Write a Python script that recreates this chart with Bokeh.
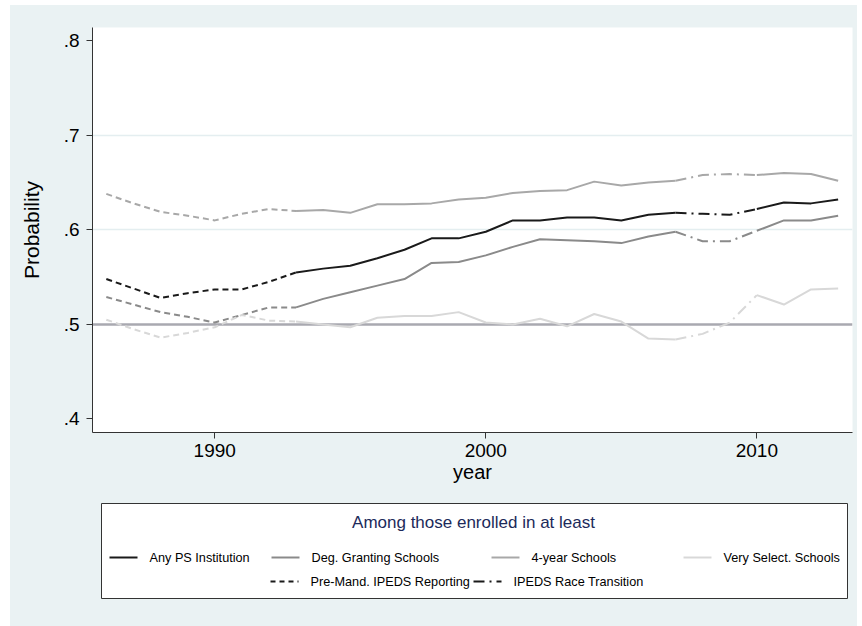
from bokeh.plotting import figure
from bokeh.layouts import column
from bokeh.models import Range1d, FixedTicker, CustomJSTickFormatter, Span
from bokeh.core.properties import value
from bokeh.embed import file_html
from bokeh.resources import INLINE

# data
years = list(range(1986, 2014))
any_ps = [0.548, 0.538, 0.528, 0.533, 0.537, 0.537, 0.545, 0.555, 0.559, 0.562,
          0.570, 0.579, 0.591, 0.591, 0.598, 0.610, 0.610, 0.613, 0.613, 0.610,
          0.616, 0.618, 0.617, 0.616, 0.622, 0.629, 0.628, 0.632]
deg_granting = [0.529, 0.521, 0.513, 0.508, 0.502, 0.510, 0.518, 0.518, 0.527, 0.534,
                0.541, 0.548, 0.565, 0.566, 0.573, 0.582, 0.590, 0.589, 0.588, 0.586,
                0.593, 0.598, 0.588, 0.588, 0.599, 0.610, 0.610, 0.615]
four_year = [0.638, 0.628, 0.619, 0.615, 0.610, 0.617, 0.622, 0.620, 0.621, 0.618,
             0.627, 0.627, 0.628, 0.632, 0.634, 0.639, 0.641, 0.642, 0.651, 0.647,
             0.650, 0.652, 0.658, 0.659, 0.658, 0.660, 0.659, 0.652]
very_select = [0.505, 0.495, 0.486, 0.491, 0.497, 0.510, 0.504, 0.503, 0.500, 0.497,
               0.507, 0.509, 0.509, 0.513, 0.502, 0.500, 0.506, 0.498, 0.511, 0.503,
               0.485, 0.484, 0.490, 0.502, 0.531, 0.521, 0.537, 0.538]

series_names = ["Any PS Institution", "Deg. Granting Schools", "4-year Schools", "Very Select. Schools"]
series_vals = [any_ps, deg_granting, four_year, very_select]
colors = ["#1a1a1a", "#8a8a8a", "#a8a8a8", "#d8d8d8"]

pre_mand_end = 1993
trans_start, trans_end = 2007, 2010
x_ticks = [1990, 2000, 2010]
y_ticks = [0.4, 0.5, 0.6, 0.7, 0.8]

FONT = "Liberation Sans"
BG = "#eaf2f3"
DASH = "6 4"
DASHDOT = "11 5 2 5"

p = figure(width=847, height=487, output_backend="svg", toolbar_location=None,
           x_range=Range1d(1985.49, 2013.53), y_range=Range1d(0.3857, 0.814),
           min_border_left=82, min_border_right=5, min_border_top=22, min_border_bottom=60)
p.border_fill_color = BG
p.background_fill_color = "white"
p.outline_line_color = None

p.xgrid.visible = False
p.ygrid.ticker = FixedTicker(ticks=[0.6, 0.7])
p.ygrid.grid_line_color = "#e4eef0"
p.ygrid.grid_line_width = 1.5

for ax in (p.xaxis[0], p.yaxis[0]):
    ax.axis_line_color = "#333333"
    ax.major_tick_line_color = "#333333"
    ax.minor_tick_line_color = None
    ax.major_tick_in = 0
    ax.major_tick_out = 6
    ax.major_label_text_font = FONT
    ax.major_label_text_font_size = "19px"
    ax.major_label_text_color = "black"
    ax.axis_label_text_font = FONT
    ax.axis_label_text_font_style = "normal"
    ax.axis_label_text_color = "black"

p.xaxis.ticker = FixedTicker(ticks=x_ticks)
p.xaxis.axis_label = "year"
p.xaxis.axis_label_text_font_size = "20px"
p.xaxis.major_label_standoff = 5
p.xaxis.axis_label_standoff = 1
p.yaxis.ticker = FixedTicker(ticks=y_ticks)
p.yaxis.formatter = CustomJSTickFormatter(code="return tick.toFixed(1).replace(/^0/, '')")
p.yaxis.axis_label = "Probability"
p.yaxis.axis_label_text_font_size = "21px"
p.yaxis.major_label_standoff = 7
p.yaxis.axis_label_standoff = 18

p.add_layout(Span(location=0.5, dimension="width", line_color="#a9a9b0",
                  line_width=2.5, level="underlay"))


def idx(lo, hi):
    return [i for i, yr in enumerate(years) if lo <= yr <= hi]


for vals, col in zip(series_vals, colors):
    parts = [
        (idx(years[0], pre_mand_end), DASH),
        (idx(pre_mand_end, trans_start), "solid"),
        (idx(trans_start, trans_end), DASHDOT),
        (idx(trans_end, years[-1]), "solid"),
    ]
    for ii, dash in parts:
        p.line([years[i] for i in ii], [vals[i] for i in ii], line_color=col,
               line_width=2, line_dash=dash)

# legend panel: its frame lines up with the chart frame; x in page pixels, y pointing down
leg = figure(width=847, height=134, output_backend="svg", toolbar_location=None,
             x_range=Range1d(92, 852), y_range=Range1d(134, 0),
             x_axis_location=None, y_axis_location=None,
             min_border_left=82, min_border_right=5, min_border_top=0, min_border_bottom=0)
leg.grid.visible = False
leg.outline_line_color = None
leg.border_fill_color = BG
leg.background_fill_color = BG

leg.quad(left=[101], right=[847], top=[11], bottom=[106], fill_color="white",
         line_color="#333333", line_width=1)
leg.text(x=[473], y=[30], text=["Among those enrolled in at least"], text_align="center",
         text_baseline="middle", text_font=value(FONT), text_font_size="17px",
         text_color="#1c2a5a")

row1, row2 = 65, 89
leg_items = [
    (109, row1, colors[0], "solid", series_names[0]),
    (271, row1, colors[1], "solid", series_names[1]),
    (491, row1, colors[2], "solid", series_names[2]),
    (683, row1, colors[3], "solid", series_names[3]),
    (270, row2, "#1a1a1a", "5 4", "Pre-Mand. IPEDS Reporting"),
    (473, row2, "#1a1a1a", DASHDOT, "IPEDS Race Transition"),
]
for x0, yy, col, dash, name in leg_items:
    leg.line([x0, x0 + 28], [yy, yy], line_color=col, line_width=2, line_dash=dash)
    leg.text(x=[x0 + 40], y=[yy], text=[name], text_baseline="middle",
             text_font=value(FONT), text_font_size="12.7px", text_color="black")

layout = column(p, leg, spacing=0,
                styles={"margin-left": "10px", "margin-top": "5px", "background-color": BG})
open("out.html", "w").write(file_html(layout, INLINE))
